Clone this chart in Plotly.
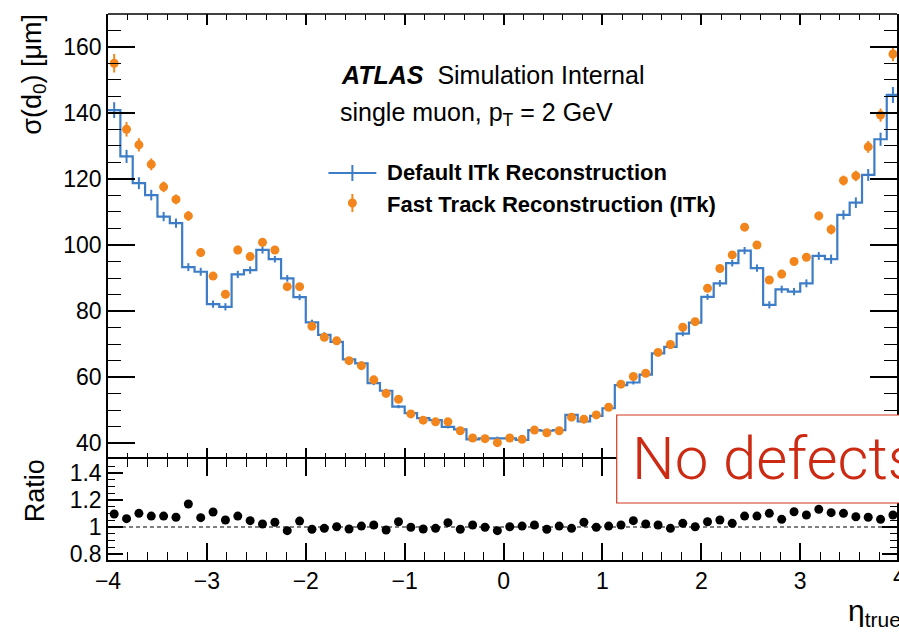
import numpy as np
import plotly.graph_objects as go

# ---------------- data ----------------
eta_edges = np.linspace(-4.0, 4.0, 65)
eta_centers = 0.5 * (eta_edges[:-1] + eta_edges[1:])

default_itk = [140.8, 126.8, 118.7, 115.1, 108.6, 106.6, 93.3, 91.9, 82.1, 81.3, 91.1, 92.4, 98.5, 95.7, 89.9, 84.2,
               76.6, 72.8, 70.7, 65.4, 64.2, 58.2, 55.9, 51.1, 49.1, 47.6, 47.0, 45.0, 44.2, 41.2, 41.5, 41.5,
               41.5, 41.0, 44.0, 43.8, 44.0, 48.6, 46.6, 48.3, 50.6, 57.6, 58.4, 60.8, 67.2, 69.2, 73.2, 76.5,
               84.3, 88.4, 94.5, 98.3, 93.0, 81.9, 86.6, 85.9, 88.4, 96.7, 95.7, 109.1, 112.8, 121.2, 132.0, 145.4]
default_err = [2.4, 2.0, 1.8, 1.6, 1.4, 1.4, 1.2, 1.2, 1.1, 1.1, 1.1, 1.1, 1.1, 1.0, 1.0, 0.9,
               0.8, 0.8, 0.7, 0.7, 0.6, 0.6, 0.6, 0.5, 0.5, 0.5, 0.5, 0.5, 0.5, 0.5, 0.5, 0.5,
               0.5, 0.5, 0.5, 0.5, 0.5, 0.5, 0.5, 0.5, 0.5, 0.6, 0.6, 0.6, 0.7, 0.7, 0.8, 0.8,
               0.9, 1.0, 1.0, 1.1, 1.1, 1.1, 1.1, 1.1, 1.2, 1.2, 1.4, 1.4, 1.6, 1.8, 2.0, 2.4]

fast_itk = [155.0, 135.0, 130.3, 124.4, 117.6, 113.8, 108.8, 97.7, 90.6, 85.1, 98.5, 96.5, 100.8, 98.5, 87.4, 87.4,
            75.4, 72.1, 71.0, 65.0, 63.5, 59.2, 55.1, 53.3, 48.9, 47.0, 46.5, 46.5, 43.8, 41.6, 41.4, 40.2,
            41.6, 41.2, 44.0, 43.2, 43.8, 47.9, 47.3, 48.6, 50.9, 57.9, 60.2, 61.2, 67.5, 69.9, 75.1, 76.8,
            86.9, 92.9, 97.0, 105.4, 100.0, 89.4, 91.2, 95.0, 96.3, 108.8, 104.7, 119.5, 120.9, 129.7, 139.3, 157.8]
fast_err = [2.8, 2.2, 2.0, 1.8, 1.6, 1.5, 1.5, 1.3, 1.2, 1.2, 1.3, 1.2, 1.2, 1.2, 1.1, 1.0,
            0.9, 0.8, 0.8, 0.7, 0.7, 0.6, 0.6, 0.6, 0.5, 0.5, 0.5, 0.5, 0.5, 0.5, 0.5, 0.5,
            0.5, 0.5, 0.5, 0.5, 0.5, 0.5, 0.5, 0.5, 0.5, 0.6, 0.6, 0.6, 0.7, 0.7, 0.8, 0.8,
            0.9, 1.0, 1.1, 1.2, 1.2, 1.2, 1.3, 1.2, 1.2, 1.3, 1.5, 1.5, 1.6, 1.8, 2.0, 2.2]

ratio = [1.096, 1.062, 1.101, 1.081, 1.081, 1.072, 1.170, 1.069, 1.111, 1.052, 1.081, 1.047, 1.022, 1.035, 0.973, 1.044,
         0.983, 0.990, 1.002, 0.985, 1.007, 1.015, 0.978, 1.039, 0.998, 0.985, 0.990, 1.032, 0.983, 1.015, 0.998, 0.973,
         1.002, 1.007, 1.015, 0.983, 1.007, 0.990, 1.035, 0.998, 1.007, 1.015, 1.047, 1.022, 1.015, 0.990, 1.027, 1.002,
         1.039, 1.052, 1.027, 1.081, 1.081, 1.101, 1.057, 1.113, 1.089, 1.131, 1.106, 1.101, 1.076, 1.072, 1.057, 1.089]

BLUE = "#3d7cc6"
ORANGE = "#f2861c"
FONT = "Liberation Sans"

# ---------------- figure geometry (pixels) ----------------
W, H = 899, 632
ML, MT, MB = 108, 14, 72
PW, PH = W - ML, H - MT - MB
def px(xp):
    return (xp - ML) / PW
def py(yp):
    return (H - MB - yp) / PH

SPLIT_PX = 459.0
Y1_LO = 160 - (SPLIT_PX - 46.7) / 3.305
Y1_HI = 160 + (46.7 - MT) / 3.305
Y2_HI = 1.4 + (473 - SPLIT_PX) / 135.0
Y2_LO = 0.8 - (H - MB - 554) / 135.0

fig = go.Figure()

# step histogram for default reconstruction
step_x = list(eta_edges)
step_y = list(default_itk) + [default_itk[-1]]
fig.add_trace(go.Scatter(x=step_x, y=step_y, mode="lines", line=dict(color=BLUE, width=2.2, shape="hv"),
                         xaxis="x", yaxis="y", showlegend=False, hoverinfo="skip"))
fig.add_trace(go.Scatter(x=eta_centers, y=default_itk, mode="markers", marker=dict(size=0.1, color=BLUE),
                         error_y=dict(type="data", array=default_err, color=BLUE, thickness=2, width=0),
                         xaxis="x", yaxis="y", showlegend=False))
# fast track points
fig.add_trace(go.Scatter(x=eta_centers, y=fast_itk, mode="markers",
                         marker=dict(size=9, color=ORANGE, symbol="circle"),
                         error_y=dict(type="data", array=fast_err, color=ORANGE, thickness=2, width=0),
                         xaxis="x", yaxis="y", showlegend=False))
# ratio
fig.add_trace(go.Scatter(x=eta_centers, y=ratio, mode="markers", marker=dict(size=9, color="black"),
                         xaxis="x2", yaxis="y2", showlegend=False))

XR = [-4.0, -4.0 + PW / 99.14]

axis_common = dict(showgrid=False, zeroline=False, showline=True, linecolor="black", linewidth=1.5,
                   ticks="inside", tickcolor="black", tickwidth=1.5, mirror="allticks",
                   tickfont=dict(family=FONT, size=23, color="black"))
xtop = dict(axis_common)
xtop["showline"] = False  # boundary line comes from the ratio pad; top edge drawn as a shape

fig.update_layout(
    width=W, height=H,
    margin=dict(l=ML, r=0, t=MT, b=MB),
    paper_bgcolor="white", plot_bgcolor="white",
    xaxis=dict(domain=[0, 1], anchor="y", range=XR, dtick=1, tick0=0, ticklen=11, showticklabels=False,
               minor=dict(dtick=0.2, ticklen=6, ticks="inside", tickcolor="black", tickwidth=1), **xtop),
    yaxis=dict(domain=[py(SPLIT_PX), 1], anchor="x", range=[Y1_LO, Y1_HI], dtick=20, tick0=40, ticklen=27,
               minor=dict(dtick=5, ticklen=13, ticks="inside", tickcolor="black", tickwidth=1), **axis_common),
    xaxis2=dict(domain=[0, 1], anchor="y2", range=XR, dtick=1, tick0=0, ticklen=17, matches="x",
                minor=dict(dtick=0.2, ticklen=8, ticks="inside", tickcolor="black", tickwidth=1), **axis_common),
    yaxis2=dict(domain=[0, py(SPLIT_PX)], anchor="x2", range=[Y2_LO, Y2_HI], dtick=0.2, tick0=0.8, ticklen=15,
                minor=dict(dtick=0.05, ticklen=7, ticks="inside", tickcolor="black", tickwidth=1), **axis_common),
)

shapes = []
# top frame edge of upper pad
shapes.append(dict(type="line", xref="x domain", yref="y domain", x0=0, x1=1, y0=1, y1=1,
                   line=dict(color="black", width=1.5), layer="above"))
# dashed line at ratio = 1
shapes.append(dict(type="line", xref="x2 domain", yref="y2", x0=0, x1=1, y0=1, y1=1,
                   line=dict(color="black", width=1.2, dash="4px,3px"), layer="below"))
# legend symbols
shapes.append(dict(type="line", xref="paper", yref="paper", x0=px(329), x1=px(377), y0=py(173), y1=py(173),
                   line=dict(color=BLUE, width=2.2)))
shapes.append(dict(type="line", xref="paper", yref="paper", x0=px(353), x1=px(353), y0=py(165), y1=py(181),
                   line=dict(color=BLUE, width=2)))
shapes.append(dict(type="line", xref="paper", yref="paper", x0=px(353), x1=px(353), y0=py(194), y1=py(212),
                   line=dict(color=ORANGE, width=2)))
shapes.append(dict(type="circle", xref="paper", yref="paper", x0=px(348.5), x1=px(357.5), y0=py(198.5), y1=py(207.5),
                   line=dict(color=ORANGE, width=0), fillcolor=ORANGE))
# "No defects" box
shapes.append(dict(type="rect", xref="paper", yref="paper", x0=px(618), x1=px(960), y0=py(503), y1=py(415),
                   line=dict(color="#d0381f", width=1.2), fillcolor="white", layer="above"))
fig.update_layout(shapes=shapes)

ann = []
ann.append(dict(text="<b><i>ATLAS</i></b>\u00a0\u00a0Simulation Internal", x=px(340), y=py(75), xref="paper", yref="paper",
                xanchor="left", yanchor="middle", showarrow=False, font=dict(family=FONT, size=25, color="black")))
ann.append(dict(text="single muon, p<sub>T</sub> = 2 GeV", x=px(339), y=py(114), xref="paper", yref="paper",
                xanchor="left", yanchor="middle", showarrow=False, font=dict(family=FONT, size=25, color="black")))
ann.append(dict(text="<b>Default ITk Reconstruction</b>", x=px(386), y=py(173), xref="paper", yref="paper",
                xanchor="left", yanchor="middle", showarrow=False, font=dict(family=FONT, size=22, color="black")))
ann.append(dict(text="<b>Fast Track Reconstruction (ITk)</b>", x=px(386), y=py(204), xref="paper", yref="paper",
                xanchor="left", yanchor="middle", showarrow=False, font=dict(family=FONT, size=22, color="black")))
# axis titles
ann.append(dict(text="σ(d<sub>0</sub>) [μm]", x=px(33), y=py(12), xref="paper", yref="paper", textangle=-90,
                xanchor="center", yanchor="top", showarrow=False, font=dict(family=FONT, size=27, color="black")))
ann.append(dict(text="Ratio", x=px(35), y=py(491), xref="paper", yref="paper", textangle=-90,
                xanchor="center", yanchor="middle", showarrow=False, font=dict(family=FONT, size=27, color="black")))
ann.append(dict(text="η<sub>true</sub>", x=px(848), y=py(612), xref="paper", yref="paper",
                xanchor="left", yanchor="middle", showarrow=False, font=dict(family=FONT, size=30, color="black")))
# the partially visible "4" tick label at the right edge
ann.append(dict(text="4", x=px(901.5), y=py(577), xref="paper", yref="paper",
                xanchor="center", yanchor="middle", showarrow=False, font=dict(family=FONT, size=23, color="black")))
# "No defects" overlay
ann.append(dict(text="No defects", x=px(631), y=py(458), xref="paper", yref="paper",
                xanchor="left", yanchor="middle", showarrow=False,
                font=dict(family="Roboto", size=60, color="#cc2a12", weight=300)))
fig.update_layout(annotations=ann)

fig.write_html("out.html")
